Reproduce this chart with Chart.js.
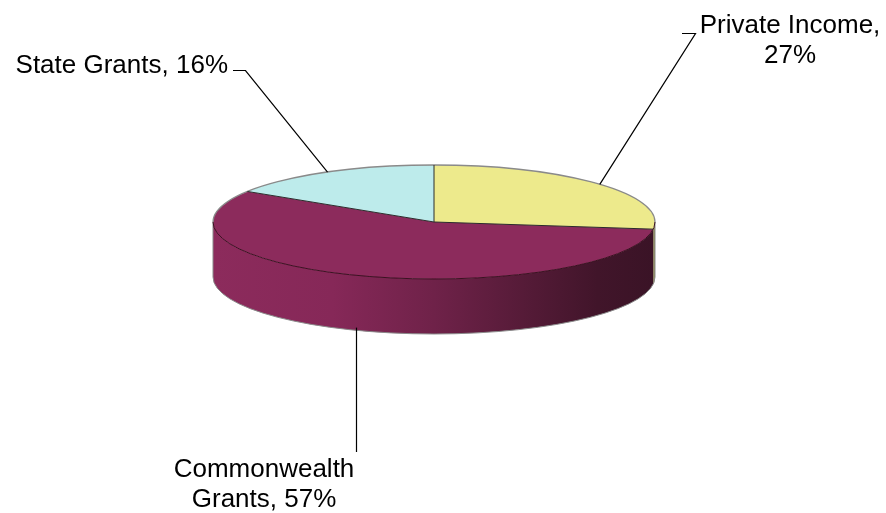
<!DOCTYPE html>
<html>
<head>
<meta charset="utf-8">
<script src="https://cdn.jsdelivr.net/npm/chart.js@4/dist/chart.umd.min.js"></script>
<style>
  html, body { margin: 0; padding: 0; background: #fff; }
  #wrap { width: 886px; height: 513px; position: relative; }
</style>
</head>
<body>
<div id="wrap"><canvas id="fundingChart"></canvas></div>
<script>
// slices go clockwise from 12 o'clock
const categories = ['Private Income', 'Commonwealth Grants', 'State Grants'];
const shares = [27, 57, 16];
const topColors = ['#EDEA8C', '#8C2B5C', '#BDEBEB'];
const sideColors = ['#8C8A4E', null, '#7FA8A8']; // null -> shaded gradient

// how the flat pie is tipped over on the page
const tilt = { cx: 434, cy: 222, rx: 221, ry: 57, depth: 55 };

// callout text placement (elbow of the leader line + text anchor)
const callouts = [
    { lines: (c, v) => [c + ',', v + '%'], elbow: [695.5, 33.5], stub: [682, 33.5], textX: 790, textY: 33, align: 'center' },
    { lines: (c, v) => ['Commonwealth', 'Grants, ' + v + '%'], elbow: null, endY: 452, textX: 264, textY: 477, align: 'center' },
    { lines: (c, v) => [c + ', ' + v + '%'], elbow: [245.5, 70.5], stub: [233, 70.5], textX: 228, textY: 73, align: 'right' }
];

function clipFront(a0, a1) {
    // visible side wall is where the angle lies between 0 and PI
    const out = [];
    for (const shift of [0, 2 * Math.PI]) {
        const s = Math.max(a0, shift), e = Math.min(a1, shift + Math.PI);
        if (e > s) out.push([s, e]);
    }
    return out;
}

function sideGradient(ctx) {
    const g = ctx.createLinearGradient(tilt.cx - tilt.rx, 0, tilt.cx + tilt.rx, 0);
    g.addColorStop(0, '#8C2B5C');
    g.addColorStop(0.27, '#862858');
    g.addColorStop(0.5, '#6F2249');
    g.addColorStop(0.7, '#561B38');
    g.addColorStop(0.87, '#41152A');
    g.addColorStop(1, '#3A1326');
    return g;
}

const pie3d = {
    id: 'pie3d',
    beforeDatasetsDraw(chart) {
        const ctx = chart.ctx;
        const arcs = chart.getDatasetMeta(0).data;
        const { cx, cy, rx, ry, depth } = tilt;

        arcs.forEach((arc, i) => {
            clipFront(arc.startAngle, arc.endAngle).forEach(([a0, a1]) => {
                ctx.beginPath();
                ctx.ellipse(cx, cy, rx, ry, 0, a0, a1);
                ctx.ellipse(cx, cy + depth, rx, ry, 0, a1, a0, true);
                ctx.closePath();
                ctx.fillStyle = sideColors[i] || sideGradient(ctx);
                ctx.fill();
            });
        });

        // squash the library's round pie into the top face
        const R = arcs[0].outerRadius;
        ctx.save();
        ctx.translate(cx, cy);
        ctx.scale(rx / R, ry / R);
        ctx.translate(-arcs[0].x, -arcs[0].y);
    },
    afterDatasetsDraw(chart) {
        const ctx = chart.ctx;
        ctx.restore();
        const arcs = chart.getDatasetMeta(0).data;
        const { cx, cy, rx, ry, depth } = tilt;

        ctx.save();
        ctx.lineWidth = 1;
        // bottom rim and side edges
        ctx.strokeStyle = '#8a8a8a';
        ctx.beginPath();
        ctx.ellipse(cx, cy + depth, rx, ry, 0, 0, Math.PI);
        ctx.stroke();
        ctx.beginPath();
        ctx.moveTo(cx - rx, cy); ctx.lineTo(cx - rx, cy + depth);
        ctx.moveTo(cx + rx, cy); ctx.lineTo(cx + rx, cy + depth);
        ctx.stroke();
        // top outline
        ctx.lineWidth = 1.3;
        ctx.beginPath();
        ctx.ellipse(cx, cy, rx, ry, 0, Math.PI, 2 * Math.PI);
        ctx.stroke();
        // front edge of the top face
        ctx.lineWidth = 1;
        ctx.strokeStyle = '#3a1020';
        ctx.beginPath();
        ctx.ellipse(cx, cy, rx, ry, 0, 0, Math.PI);
        ctx.stroke();
        // slice borders
        ctx.strokeStyle = '#2b2b2b';
        arcs.forEach(arc => {
            ctx.beginPath();
            ctx.moveTo(cx, cy);
            ctx.lineTo(cx + rx * Math.cos(arc.startAngle), cy + ry * Math.sin(arc.startAngle));
            ctx.stroke();
        });
        ctx.restore();
    },
    afterDraw(chart) {
        const ctx = chart.ctx;
        const arcs = chart.getDatasetMeta(0).data;
        const { cx, cy, rx, ry, depth } = tilt;

        ctx.save();
        ctx.strokeStyle = '#000';
        ctx.lineWidth = 1.2;
        ctx.fillStyle = '#000';
        ctx.font = '26px "Liberation Sans", Arial, sans-serif';
        ctx.textBaseline = 'alphabetic';

        arcs.forEach((arc, i) => {
            const mid = (arc.startAngle + arc.endAngle) / 2;
            let ax = cx + rx * Math.cos(mid);
            let ay = cy + ry * Math.sin(mid);
            if (Math.sin(mid) > 0) ay += depth;
            const c = callouts[i];

            ctx.beginPath();
            if (c.elbow) {
                ctx.moveTo(ax, ay);
                ctx.lineTo(c.elbow[0], c.elbow[1]);
                ctx.lineTo(c.stub[0], c.stub[1]);
            } else {
                const lx = Math.round(ax) - 2.5;
                ctx.moveTo(lx, ay - 3);
                ctx.lineTo(lx, c.endY);
            }
            ctx.stroke();

            ctx.textAlign = c.align;
            c.lines(categories[i], shares[i]).forEach((line, k) => {
                ctx.fillText(line, c.textX, c.textY + k * 30);
            });
        });
        ctx.restore();
    }
};

new Chart(document.getElementById('fundingChart'), {
    type: 'pie',
    data: {
        labels: categories,
        datasets: [{
            data: shares,
            backgroundColor: topColors,
            borderWidth: 0
        }]
    },
    options: {
        responsive: true,
        maintainAspectRatio: false,
        animation: false,
        layout: { padding: { left: 213, right: 231, top: 20, bottom: 51 } },
        plugins: {
            legend: { display: false },
            tooltip: { enabled: false }
        }
    },
    plugins: [pie3d]
});
</script>
</body>
</html>
